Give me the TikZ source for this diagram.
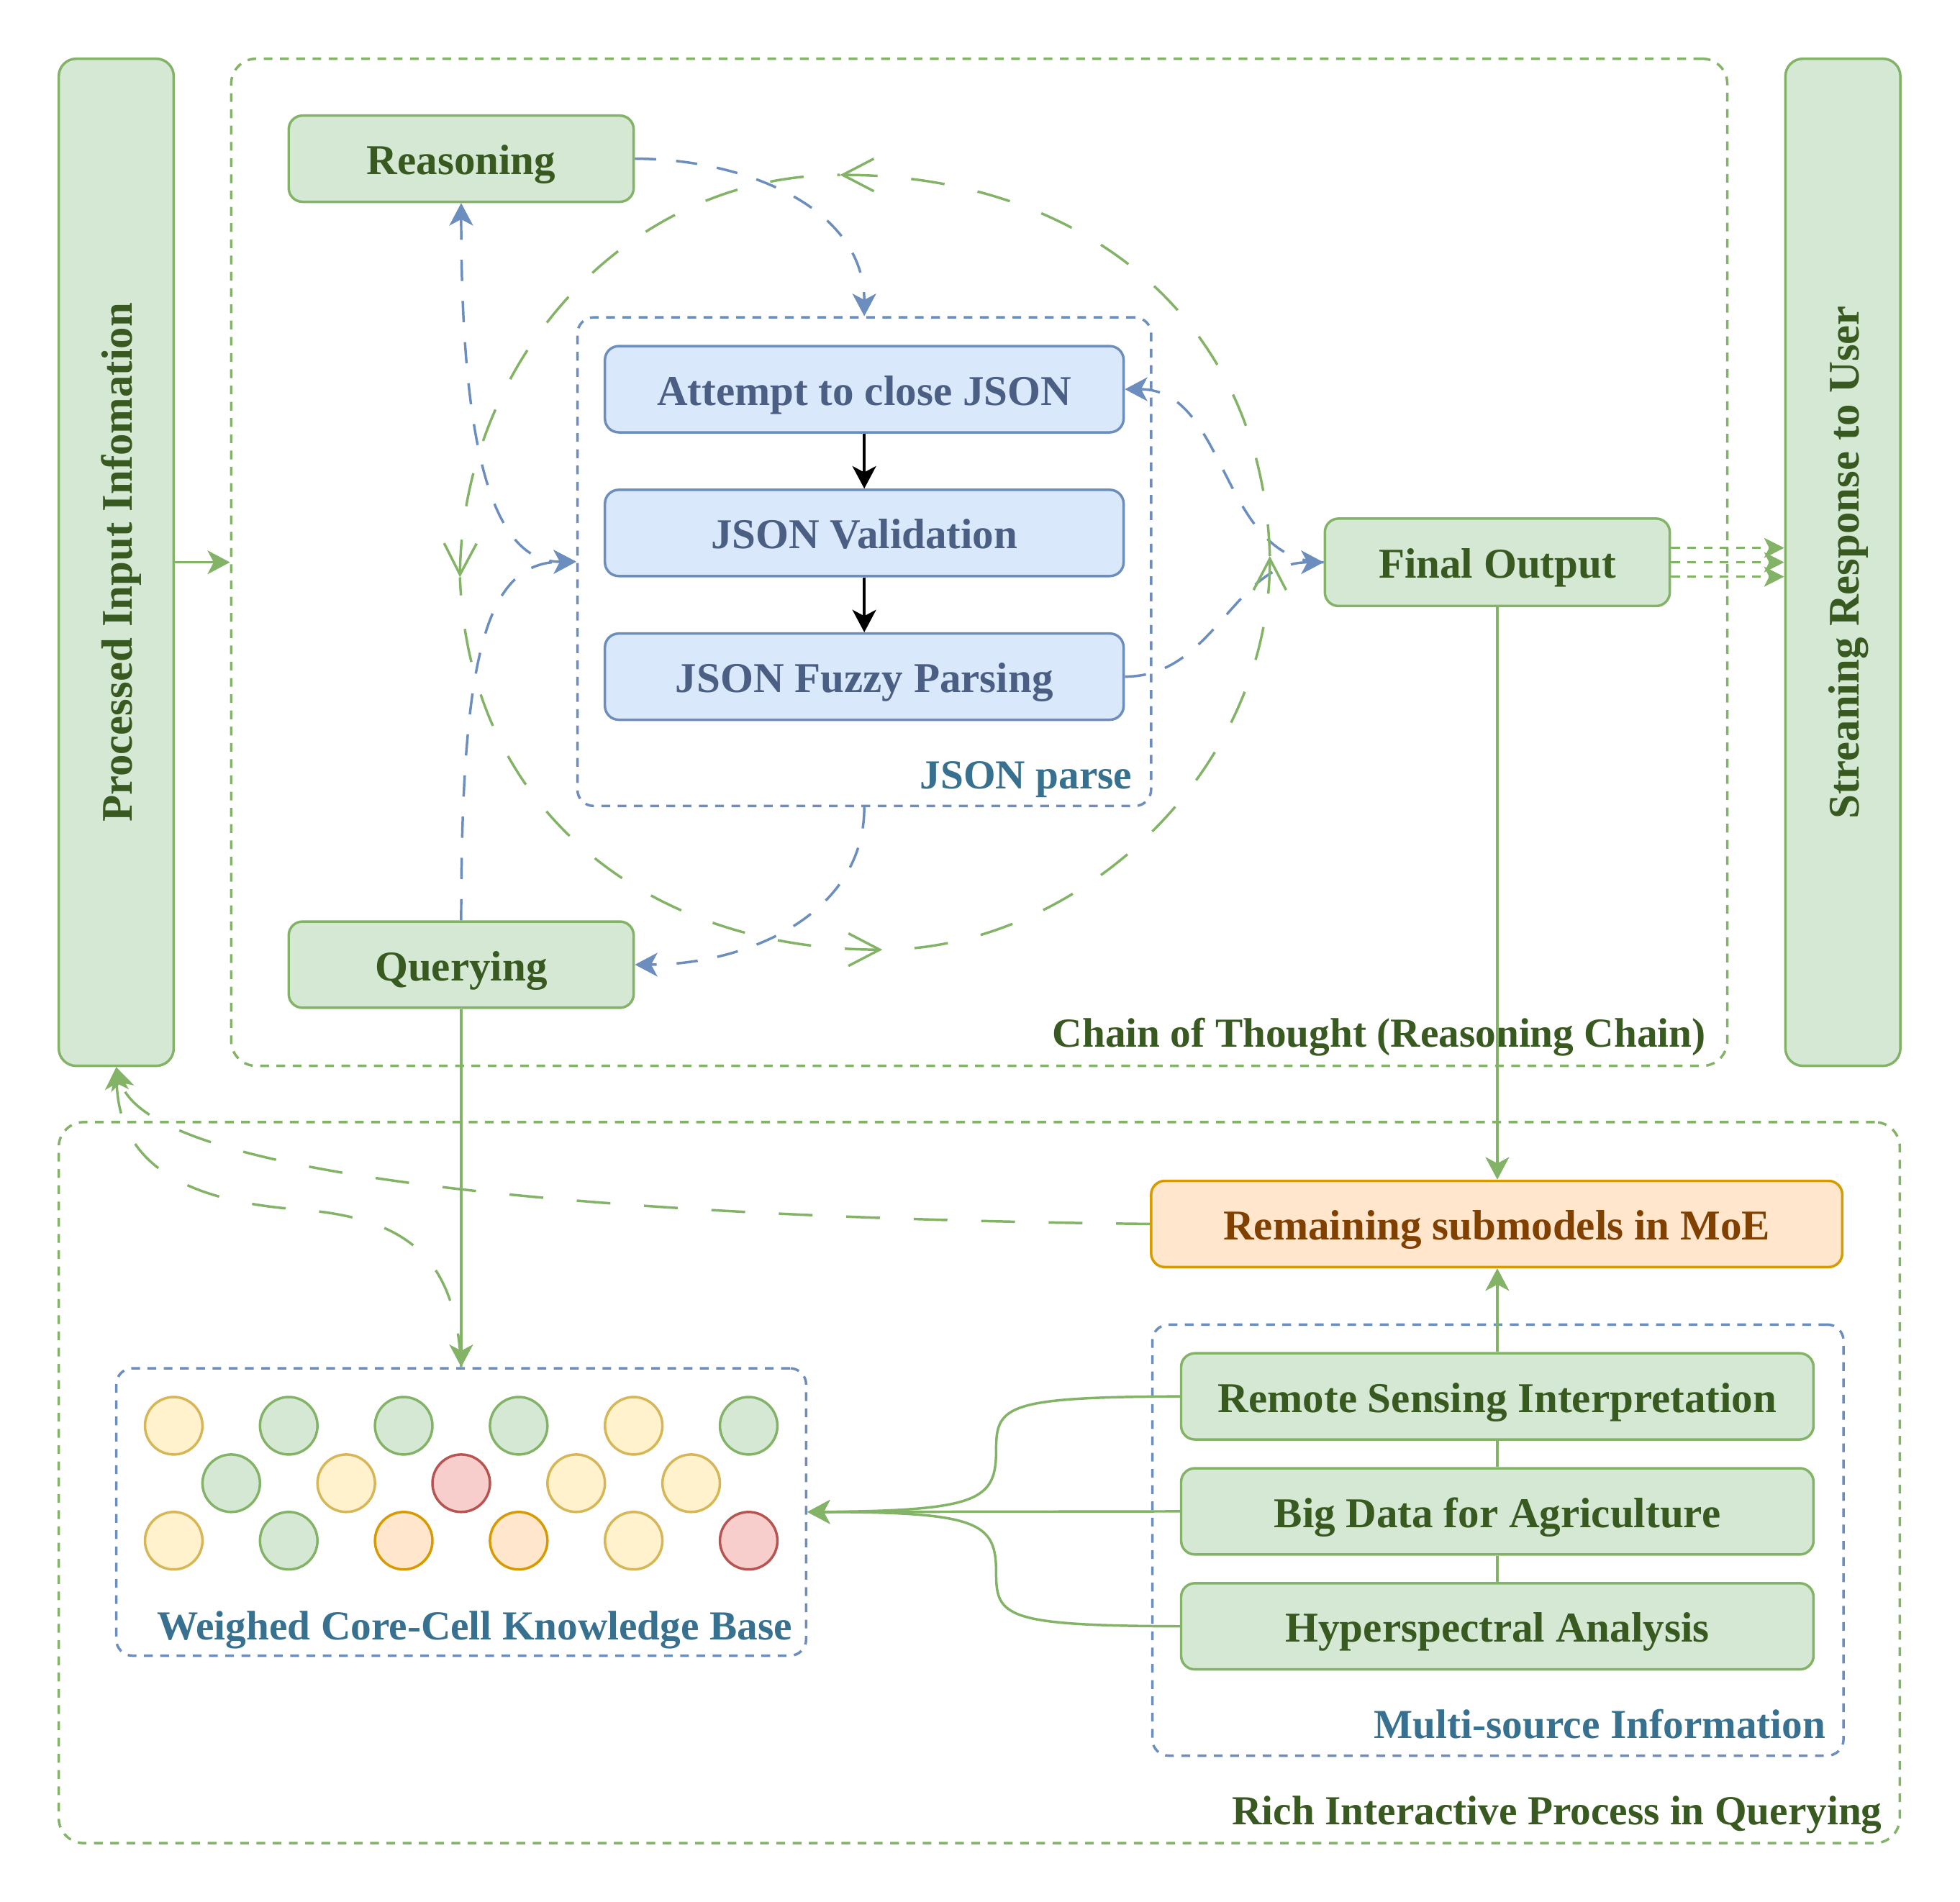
\documentclass[tikz,border=0pt]{standalone}
\usepackage{fontspec}
\setmainfont{Liberation Serif}
\usetikzlibrary{arrows.meta}
\definecolor{gfill}{HTML}{D5E8D4}
\definecolor{gdraw}{HTML}{82B366}
\definecolor{bfill}{HTML}{DAE8FC}
\definecolor{bdraw}{HTML}{6C8EBF}
\definecolor{yfill}{HTML}{FFF2CC}
\definecolor{ydraw}{HTML}{D6B656}
\definecolor{ofill}{HTML}{FFE6CC}
\definecolor{odraw}{HTML}{D79B00}
\definecolor{rfill}{HTML}{F8CECC}
\definecolor{rdraw}{HTML}{B85450}
\definecolor{gtext}{HTML}{38591F}
\definecolor{btext}{HTML}{4A5F83}
\definecolor{ltext}{HTML}{38718F}
\definecolor{otext}{HTML}{804000}
\tikzset{
  boxfont/.style={font=\bfseries\fontsize{34}{40}\selectfont, text height=30pt, text depth=4.5pt},
  labfont/.style={font=\bfseries\fontsize{33}{40}\selectfont},
  gbox/.style={boxfont, draw=gdraw, fill=gfill, line width=2pt, rounded corners=11pt, text=gtext, inner sep=0pt, minimum width=276pt, minimum height=69pt},
  bbox/.style={boxfont, draw=bdraw, fill=bfill, line width=2pt, rounded corners=11pt, text=btext, inner sep=0pt, minimum width=415pt, minimum height=69pt},
  sbox/.style={gbox, minimum width=506pt},
  obox/.style={boxfont, draw=odraw, fill=ofill, line width=2pt, rounded corners=11pt, text=otext, inner sep=0pt, minimum width=553pt, minimum height=69pt},
  tallbox/.style={draw=gdraw, fill=gfill, line width=2pt, rounded corners=14pt, inner sep=0pt, minimum width=92pt, minimum height=806pt},
  talltext/.style={rotate=90, text=gtext, font=\bfseries\fontsize{35}{40}\selectfont, text height=30pt, text depth=4.5pt, inner sep=0pt},
  gcont/.style={draw=gdraw, line width=2pt, dash pattern=on 7pt off 6pt, rounded corners=20pt, inner sep=0pt},
  bcont/.style={draw=bdraw, line width=2pt, dash pattern=on 7pt off 6pt, rounded corners=13pt, inner sep=0pt},
  glab/.style={labfont, text=gtext, anchor=base east, inner sep=0pt},
  blab/.style={labfont, text=ltext, anchor=base east, inner sep=0pt},
  tipS/.style={-{Stealth[length=18pt,width=19pt,inset=5pt]}},
  gsolid/.style={draw=gdraw, line width=2pt, tipS},
  gplain/.style={draw=gdraw, line width=2pt},
  ksolid/.style={draw=black, line width=2pt, tipS},
  bdash/.style={draw=bdraw, line width=2pt, dash pattern=on 17pt off 16pt},
  glong/.style={draw=gdraw, line width=2pt, dash pattern=on 27pt off 27pt},
  gshort/.style={draw=gdraw, line width=2pt, dash pattern=on 7pt off 6pt, -{Stealth[length=16pt,width=16pt,inset=4pt]}},
  barbback/.style={{Straight Barb[length=25pt,width=26pt]}-},
  cell/.style={circle, line width=2pt, minimum size=46pt, inner sep=0pt},
  cy/.style={cell, draw=ydraw, fill=yfill},
  cg/.style={cell, draw=gdraw, fill=gfill},
  cr/.style={cell, draw=rdraw, fill=rfill},
  co/.style={cell, draw=odraw, fill=ofill},
}
\begin{document}
\begin{tikzpicture}[x=1pt,y=-1pt]
\useasboundingbox (0,0) rectangle (1568.2,1522.1);

% containers
\node[gcont, minimum width=1197pt, minimum height=806pt] (chain) at (783.5,450) {};
\node[glab] (chainlab) at (1365,838) {Chain of Thought (Reasoning Chain)};
\node[bcont, minimum width=459pt, minimum height=391pt] (json) at (691.5,449.5) {};
\node[blab] (jsonlab) at (906,631) {JSON parse};
\node[gcont, minimum width=1473pt, minimum height=577pt] (rich) at (783.5,1186.5) {};
\node[glab] (richlab) at (1506,1460) {Rich Interactive Process in Querying};
\node[bcont, minimum width=553pt, minimum height=345pt] (multi) at (1198.5,1232.5) {};
\node[blab] (multilab) at (1461,1391) {Multi-source Information};
\node[bcont, minimum width=552pt, minimum height=230pt] (kb) at (369,1210) {};
\node[blab] (kblab) at (634,1312) {Weighed Core-Cell Knowledge Base};

% tall boxes
\node[tallbox] (proc) at (93,450) {};
\node[talltext] (proctext) at (proc.center) {Processed Input Infomation};
\node[tallbox] (stream) at (1474.5,450) {};
\node[talltext] (streamtext) at (stream.center) {Streaning Response to User};

% boxes
\node[gbox] (reason) at (369,127) {Reasoning};
\node[gbox] (query) at (369,772) {Querying};
\node[bbox] (attempt) at (691.5,311.5) {Attempt to close JSON};
\node[bbox] (valid) at (691.5,426.5) {JSON Validation};
\node[bbox] (fuzzy) at (691.5,541.5) {JSON Fuzzy Parsing};
\node[gbox, minimum height=70pt] (final) at (1198,450) {Final Output};
\node[obox] (remain) at (1197.5,979.5) {Remaining submodels in MoE};
\node[sbox] (rs) at (1198,1117.5) {Remote Sensing Interpretation};
\node[sbox] (bd) at (1198,1209.5) {Big Data for Agriculture};
\node[sbox] (ha) at (1198,1301.5) {Hyperspectral Analysis};

% knowledge cells
\node[cy] (c11) at (139,1141) {};
\node[cg] (c12) at (231,1141) {};
\node[cg] (c13) at (323,1141) {};
\node[cg] (c14) at (415,1141) {};
\node[cy] (c15) at (507,1141) {};
\node[cg] (c16) at (599,1141) {};
\node[cg] (c21) at (185,1187) {};
\node[cy] (c22) at (277,1187) {};
\node[cr] (c23) at (369,1187) {};
\node[cy] (c24) at (461,1187) {};
\node[cy] (c25) at (553,1187) {};
\node[cy] (c31) at (139,1233) {};
\node[cg] (c32) at (231,1233) {};
\node[co] (c33) at (323,1233) {};
\node[co] (c34) at (415,1233) {};
\node[cy] (c35) at (507,1233) {};
\node[cr] (c36) at (599,1233) {};

% solid connectors
\draw[gsolid] (proc.east) -- (chain.west);
\draw[ksolid] (attempt.south) -- (valid.north);
\draw[ksolid] (valid.south) -- (fuzzy.north);
\foreach \dy in {11.5,0,-11.5}
  \draw[gshort] ([yshift=\dy pt]final.east) -- ([yshift=\dy pt]final.east -| stream.west);
\draw[gsolid] (final.south) -- (final.south |- remain.north);
\draw[gsolid] (query.south) -- (kb.north);
\draw[gsolid] (rs.north) -- (rs.north |- remain.south);
\draw[gplain] (rs.south) -- (bd.north);
\draw[gplain] (bd.south) -- (ha.north);
\draw[gsolid] (rs.west) .. controls (805,1118) and (797,1125) .. (797,1160) .. controls (797,1200) and (785,1209) .. (kb.east);
\draw[gsolid] (bd.west) -- (kb.east);
\draw[gsolid] (ha.west) .. controls (805,1301) and (797,1294) .. (797,1259) .. controls (797,1219) and (785,1210) .. (kb.east);

% blue dashed connectors
\draw[bdash, tipS] (reason.east) to[out=0,in=90] (json.north);
\draw[bdash, tipS] (json.south) to[out=-90,in=0] (query.east);
\draw[bdash, tipS] (query.north) .. controls (369,520) and (390,450) .. (json.west);
\draw[bdash, {Stealth[length=18pt,width=19pt,inset=5pt]}-{Stealth[length=18pt,width=19pt,inset=5pt]}] (reason.south) .. controls (369,380) and (400,450) .. (json.west);
\draw[bdash, tipS] (final.west) to[out=180,in=0] (attempt.east);
\draw[bdash, tipS] (fuzzy.east) to[out=0,in=180] (final.west);

% green reasoning loop (each arc drawn from its arrow tip backwards)
\coordinate (lt) at (672,140);
\coordinate (ll) at (368,462);
\coordinate (lb) at (706,760);
\coordinate (lr) at (1016,445);
\draw[glong, barbback] (lt) .. controls (860,140) and (1010,250) .. (lr);
\draw[glong, barbback] (ll) .. controls (370,290) and (500,140) .. (lt);
\draw[glong, barbback] (lb) .. controls (520,760) and (375,650) .. (ll);
\draw[glong, barbback] (lr) .. controls (1016,620) and (860,760) .. (lb);

% lower feedback curves
\draw[glong, tipS] (remain.west) .. controls (500,975) and (120,945) .. (proc.south);
\draw[glong, tipS] (kb.north) .. controls (365,1010) and (330,975) .. (240,968) .. controls (130,960) and (95,920) .. (proc.south);
\end{tikzpicture}
\end{document}
